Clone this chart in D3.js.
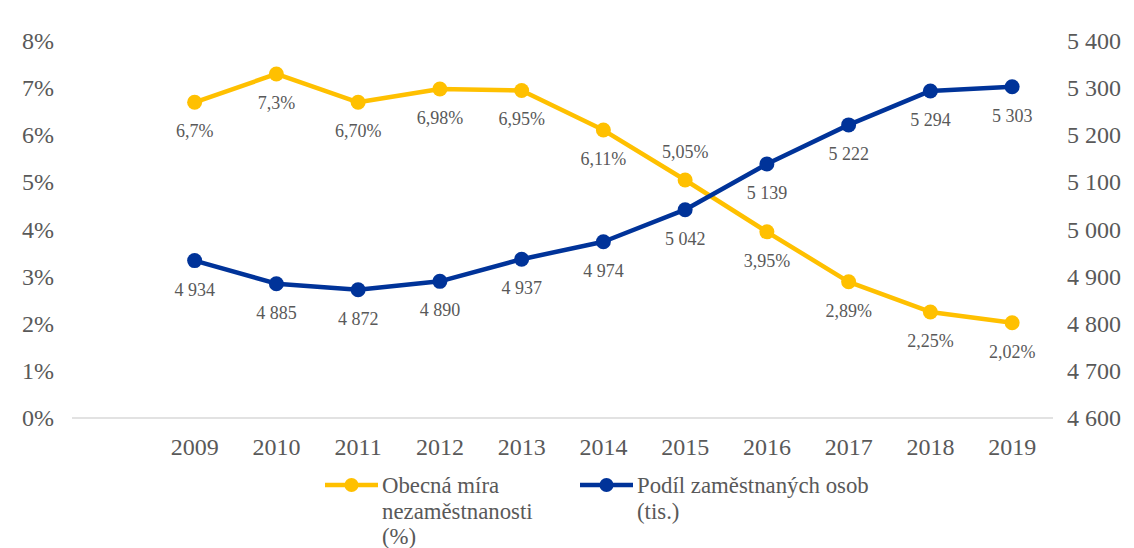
<!DOCTYPE html>
<html>
<head>
<meta charset="utf-8">
<script src="https://cdn.jsdelivr.net/npm/d3@7"></script>
<style>
  body { margin: 0; background: #fff; }
  svg text { font-family: "Liberation Serif", "DejaVu Serif", serif; fill: #595959; }
</style>
</head>
<body>
<svg id="chart" width="1134" height="548"></svg>
<script>
// data
let roky = ["2009", "2010", "2011", "2012", "2013", "2014", "2015", "2016", "2017", "2018", "2019"];
let mira = [6.7, 7.3, 6.7, 6.98, 6.95, 6.11, 5.05, 3.95, 2.89, 2.25, 2.02];
let miraPopisky = ["6,7%", "7,3%", "6,70%", "6,98%", "6,95%", "6,11%", "5,05%", "3,95%", "2,89%", "2,25%", "2,02%"];
let zamestnani = [4934, 4885, 4872, 4890, 4937, 4974, 5042, 5139, 5222, 5294, 5303];
let levaOsa = [0, 1, 2, 3, 4, 5, 6, 7, 8];
let pravaOsa = [4600, 4700, 4800, 4900, 5000, 5100, 5200, 5300, 5400];

let zluta = "#FFC000";
let modra = "#003399";

let cz = d3.formatLocale({ decimal: ",", thousands: " ", grouping: [3], currency: ["", " Kč"] });
let fmt = cz.format(",d");

let svg = d3.select("#chart");

// prazdny slot pred rokem 2009 (jak v originalu)
let x = d3.scaleBand()
    .domain([""].concat(roky))
    .range([72, 1053]);

let yL = d3.scaleLinear().domain([0, 8]).range([418, 41]);
let yR = d3.scaleLinear().domain([4600, 5400]).range([418, 41]);

let cx = (d, i) => x(roky[i]) + x.bandwidth() / 2;

// osa x
svg.append("line")
    .attr("x1", 72).attr("x2", 1053)
    .attr("y1", 418).attr("y2", 418)
    .attr("stroke", "#d9d9d9").attr("stroke-width", 1.5);

svg.selectAll(".rok")
    .data(roky)
    .enter().append("text")
    .attr("x", d => x(d) + x.bandwidth() / 2)
    .attr("y", 455)
    .attr("text-anchor", "middle")
    .style("font-size", "24px")
    .text(d => d);

// leva osa
svg.selectAll(".tl")
    .data(levaOsa)
    .enter().append("text")
    .attr("x", 54)
    .attr("y", d => yL(d) + 8)
    .attr("text-anchor", "end")
    .style("font-size", "24px")
    .text(d => d + "%");

// prava osa
svg.selectAll(".tr")
    .data(pravaOsa)
    .enter().append("text")
    .attr("x", 1067)
    .attr("y", d => yR(d) + 8)
    .attr("text-anchor", "start")
    .style("font-size", "24px")
    .text(d => fmt(d));

// cary
let car1 = d3.line().x(cx).y(d => yL(d));
let car2 = d3.line().x(cx).y(d => yR(d));

svg.append("path")
    .datum(mira)
    .attr("d", car1)
    .attr("fill", "none").attr("stroke", zluta).attr("stroke-width", 4.5)
    .attr("stroke-linejoin", "round");

svg.append("path")
    .datum(zamestnani)
    .attr("d", car2)
    .attr("fill", "none").attr("stroke", modra).attr("stroke-width", 4.5)
    .attr("stroke-linejoin", "round");

svg.selectAll(".b1")
    .data(mira)
    .enter().append("circle")
    .attr("cx", cx).attr("cy", d => yL(d)).attr("r", 7.5)
    .attr("fill", zluta);

svg.selectAll(".b2")
    .data(zamestnani)
    .enter().append("circle")
    .attr("cx", cx).attr("cy", d => yR(d)).attr("r", 7.5)
    .attr("fill", modra);

// popisky
svg.selectAll(".p1")
    .data(mira)
    .enter().append("text")
    .attr("x", cx)
    .attr("y", (d, i) => i == 6 ? yL(d) - 22 : yL(d) + 35)
    .attr("text-anchor", "middle")
    .style("font-size", "18px")
    .text((d, i) => miraPopisky[i]);

svg.selectAll(".p2")
    .data(zamestnani)
    .enter().append("text")
    .attr("x", cx)
    .attr("y", d => yR(d) + 35)
    .attr("text-anchor", "middle")
    .style("font-size", "18px")
    .text(d => fmt(d));

// legenda
let legenda = [
    { barva: zluta, x: 325, radky: ["Obecná míra", "nezaměstnanosti", "(%)"] },
    { barva: modra, x: 580, radky: ["Podíl zaměstnaných osob", "(tis.)"] }
];

let lg = svg.selectAll(".lg")
    .data(legenda)
    .enter().append("g");

lg.append("line")
    .attr("x1", d => d.x).attr("x2", d => d.x + 53)
    .attr("y1", 485).attr("y2", 485)
    .attr("stroke", d => d.barva).attr("stroke-width", 4.5);

lg.append("circle")
    .attr("cx", d => d.x + 26.5).attr("cy", 485).attr("r", 7)
    .attr("fill", d => d.barva);

lg.each(function(d) {
    let t = d3.select(this).append("text")
        .attr("x", d.x + 57)
        .attr("y", 493)
        .style("font-size", "22.8px");
    d.radky.forEach((r, i) => {
        t.append("tspan")
            .attr("x", d.x + 57)
            .attr("dy", i == 0 ? 0 : 25.5)
            .text(r);
    });
});
</script>
</body>
</html>
